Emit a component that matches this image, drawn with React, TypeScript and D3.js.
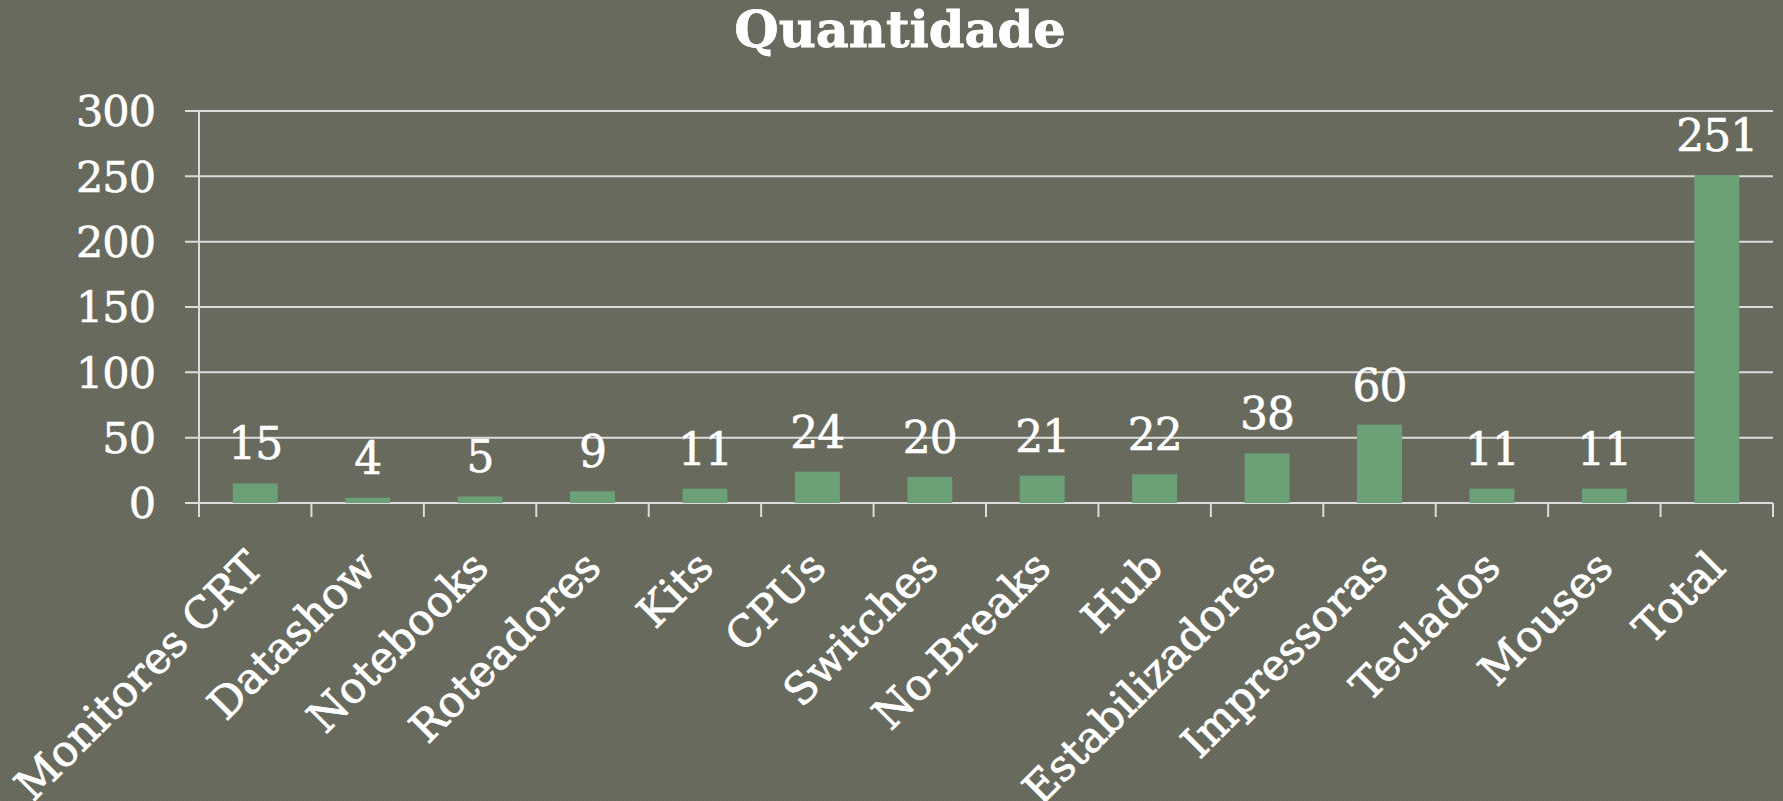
import React from "react";
import * as d3 from "d3";

const categories = [
  "Monitores CRT", "Datashow", "Notebooks", "Roteadores", "Kits", "CPUs", "Switches",
  "No-Breaks", "Hub", "Estabilizadores", "Impressoras", "Teclados", "Mouses", "Total",
];
const values = [15, 4, 5, 9, 11, 24, 20, 21, 22, 38, 60, 11, 11, 251];
const yTicks = [0, 50, 100, 150, 200, 250, 300];
const title = "Quantidade";

const W = 1783;
const H = 801;
const FONT = "'DejaVu Serif', serif";

export default function App() {
  const x = d3.scaleBand<string>().domain(categories).range([199, 1773]).paddingInner(0).paddingOuter(0);
  const y = d3.scaleLinear().domain([0, 300]).range([503, 111]);
  const bw = x.bandwidth() * 0.4;
  const y0 = y(0);

  return (
    <svg width={W} height={H} style={{ position: "absolute", left: 0, top: 0, display: "block" }}>
      <defs>
        <pattern id="tex" width="4" height="4" patternUnits="userSpaceOnUse">
          <rect width="4" height="4" fill="#646759" />
          <rect x="0" y="0" width="2" height="2" fill="#6a6d5f" />
          <rect x="2" y="2" width="2" height="2" fill="#6a6d5f" />
        </pattern>
      </defs>
      <rect width={W} height={H} fill="url(#tex)" />

      <text x={900} y={47} textAnchor="middle" fill="#ffffff" stroke="#ffffff" strokeWidth={0.8} fontFamily={FONT} fontWeight="bold" fontSize={51}>
        {title}
      </text>

      {yTicks.map((t) => (
        <g key={t}>
          <line x1={185} x2={1773} y1={y(t)} y2={y(t)} stroke="#dcdcdc" strokeWidth={2} />
          <text x={155} y={y(t)} dy="0.36em" textAnchor="end" fill="#ffffff" stroke="#ffffff" strokeWidth={0.6} fontFamily={FONT} fontSize={43} letterSpacing={-1}>
            {t}
          </text>
        </g>
      ))}

      <line x1={199} x2={199} y1={y(300)} y2={y0 + 14} stroke="#dcdcdc" strokeWidth={2} />
      {categories.map((c, i) => (
        <line key={"t" + i} x1={x(c)!} x2={x(c)!} y1={y0} y2={y0 + 14} stroke="#dcdcdc" strokeWidth={2} />
      ))}
      <line x1={1773} x2={1773} y1={y0} y2={y0 + 14} stroke="#dcdcdc" strokeWidth={2} />

      {categories.map((c, i) => {
        const cx = x(c)! + x.bandwidth() / 2;
        return (
          <g key={c}>
            <rect x={cx - bw / 2} y={y(values[i])} width={bw} height={y0 - y(values[i])} fill="#6ca077" />
            <text x={cx} y={y(values[i]) - 24} textAnchor="middle" fill="#ffffff" stroke="#ffffff" strokeWidth={0.6} fontFamily={FONT} fontSize={44} letterSpacing={-1}>
              {values[i]}
            </text>
            <text
              transform={`translate(${cx},${y0 + 56}) rotate(-45)`}
              textAnchor="end"
              dy="0.35em"
              fill="#ffffff"
              stroke="#ffffff"
              strokeWidth={0.8}
              fontFamily={FONT}
              fontSize={43}
            >
              {c}
            </text>
          </g>
        );
      })}
    </svg>
  );
}
